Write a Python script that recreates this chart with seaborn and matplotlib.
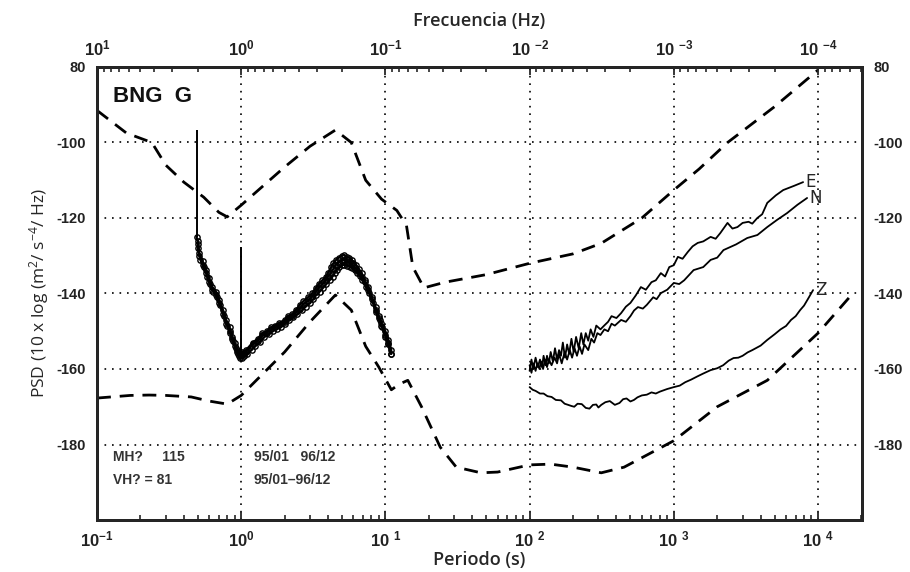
import matplotlib
matplotlib.use("Agg")
import matplotlib.pyplot as plt
import seaborn as sns
import pandas as pd
import numpy as np
from matplotlib.ticker import FixedLocator, NullFormatter, LogLocator

# ---------------- data ----------------
# Upper noise model (dashed)
nhnm_period = [0.1, 0.16, 0.24, 0.3, 0.4, 0.55, 0.7, 0.8, 1.0, 2.0, 3.0, 4.5, 5.8, 7.3, 9.4, 12, 14, 15.5, 18.5, 26, 50, 100, 200, 314, 600, 1000, 1500, 2360, 5000, 10000]
nhnm_psd = [-91.5, -97.5, -100, -106, -110.5, -114.5, -118.5, -119.7, -116.6, -106.5, -101, -96.7, -100, -110, -115, -118, -122, -133, -138.5, -137, -135, -132, -129.5, -126.7, -120, -112.6, -107, -100, -90.5, -80.8]

# Lower noise model (dashed)
nlnm_period = [0.1, 0.17, 0.23, 0.3, 0.45, 0.6, 0.8, 1.0, 2.0, 3.0, 4.5, 5.8, 7.3, 9.0, 11, 12.5, 14.3, 17.8, 24, 31, 46, 60, 100, 140, 200, 314, 452, 1000, 2000, 4450, 10000, 17400]
nlnm_psd = [-167.7, -167.0, -166.9, -167.0, -167.4, -168.5, -169.3, -167.0, -155.5, -147.5, -140.4, -144.4, -154.0, -159.5, -165.5, -164.0, -163.0, -170.0, -180.7, -186.0, -187.5, -187.3, -185.4, -185.2, -186.0, -187.5, -186.0, -179.0, -170.0, -163.0, -150.5, -140.0]

# Short-period band, station traces E, N, Z
E_sp_period = [0.49, 0.50, 0.513, 0.54, 0.574, 0.60, 0.631, 0.67, 0.705, 0.75, 0.788, 0.83, 0.867, 0.90, 0.939, 0.97, 0.995, 1.0, 1.02, 1.08, 1.2, 1.30, 1.40, 1.5, 1.6, 1.72, 1.83, 2.0, 2.1, 2.25, 2.39, 2.55, 2.7, 2.9, 3.09, 3.3, 3.45, 3.65, 3.85, 4.0, 4.2, 4.35, 4.52, 4.75, 4.97, 5.2, 5.4, 5.6, 5.83, 6.0, 6.3, 6.55, 6.83, 7.2, 7.62, 8.1, 8.54, 9.0, 9.38, 10.0, 10.5, 11.0]
E_sp_psd = [-125, -126, -129.3, -131.5, -133.8, -136, -138.3, -139.5, -141.7, -144.5, -147, -149, -151.5, -153, -155, -155.5, -156, -155.8, -155.5, -155, -153, -152, -150.5, -150, -149, -148.5, -147.8, -147, -146, -145.5, -144.4, -143, -142, -141, -140, -138.5, -137.5, -136.5, -135.6, -134.5, -133, -132, -131.2, -130.5, -130.0, -129.8, -130.3, -130.5, -131, -131.8, -132.5, -133.5, -134.6, -136.5, -138.3, -141, -143.6, -146, -147.8, -150, -152.3, -155]

N_sp_period = [0.50, 0.513, 0.54, 0.574, 0.60, 0.631, 0.67, 0.705, 0.75, 0.788, 0.83, 0.867, 0.90, 0.939, 0.97, 1.0, 1.04, 1.08, 1.2, 1.30, 1.40, 1.5, 1.6, 1.72, 1.83, 2.0, 2.1, 2.25, 2.39, 2.55, 2.7, 2.9, 3.09, 3.3, 3.45, 3.65, 3.85, 4.0, 4.2, 4.35, 4.52, 4.75, 4.97, 5.2, 5.4, 5.6, 5.83, 6.0, 6.3, 6.55, 6.83, 7.2, 7.62, 8.1, 8.54, 9.0, 9.38, 10.0, 10.5, 11.0]
N_sp_psd = [-127, -130, -132.5, -134.5, -137, -139, -140.5, -142.5, -145.5, -148, -150, -152, -154, -155.5, -156.5, -156.5, -156, -155.5, -153.5, -152.5, -151, -150.5, -149.5, -149, -148.3, -147.5, -146.5, -146, -145, -144, -142.8, -142, -140.8, -139.5, -138.5, -137.5, -136.5, -135.5, -134.5, -133.5, -132.5, -131.8, -131.3, -131.2, -131.5, -131.8, -132, -132.8, -133.5, -134.5, -135.5, -137, -139, -141.5, -144.5, -146.5, -148.5, -151, -153, -156]

Z_sp_period = [0.50, 0.52, 0.55, 0.58, 0.61, 0.64, 0.68, 0.71, 0.76, 0.80, 0.84, 0.88, 0.92, 0.95, 0.98, 1.01, 1.05, 1.1, 1.18, 1.25, 1.35, 1.45, 1.55, 1.65, 1.78, 1.9, 2.02, 2.15, 2.3, 2.45, 2.62, 2.8, 3.0, 3.15, 3.3, 3.5, 3.7, 3.9, 4.1, 4.3, 4.45, 4.6, 4.8, 5.0, 5.2, 5.45, 5.65, 5.9, 6.15, 6.4, 6.65, 6.9, 7.3, 7.7, 8.2, 8.6, 9.1, 9.5, 10.0, 10.4, 10.9]
Z_sp_psd = [-128, -131, -133, -135.5, -137.5, -139.5, -141, -143, -146, -148.5, -150.5, -152.5, -154.5, -156, -157, -157, -156.5, -156, -155, -154, -152.8, -151.5, -150.8, -150, -149.4, -148.8, -148, -147, -146.3, -145.5, -144.5, -143.5, -142.5, -141.5, -140.5, -139.5, -138.5, -137.5, -136.5, -135.5, -134.6, -133.8, -133.1, -132.5, -132.4, -132.7, -132.9, -133.2, -133.8, -134.5, -135.4, -136.5, -138.2, -140, -142.5, -145, -147, -149, -151.5, -153.5, -156]

# Narrow spikes in the short-period band (period, base, top)
spike_period = [0.49, 1.0]
spike_base = [-125.0, -155.8]
spike_top = [-96.7, -127.7]

# Long-period band
E_lp_period = [100, 103, 106, 110, 114, 118, 122, 125, 129, 132, 136, 140, 145, 150, 155, 160, 165, 170, 176, 182, 188, 195, 202, 210, 219, 228, 236, 245, 255, 265, 277, 290, 310, 329, 350, 370, 400, 431, 465, 500, 545, 591, 640, 700, 750, 813, 870, 930, 1000, 1067, 1150, 1250, 1350, 1465, 1600, 1800, 1950, 2100, 2357, 2550, 2762, 3000, 3300, 3500, 3794, 4100, 4446, 5100, 5736, 6800, 7880]
E_lp_psd = [-160.5, -157.5, -160, -157, -159.5, -157.5, -159.5, -156.5, -159, -156.5, -158.5, -155.5, -158, -154.5, -157.5, -155, -156.5, -153, -157, -153.5, -156, -152, -155.5, -151.5, -154.5, -150.5, -153.5, -150.5, -152.5, -149.5, -151.5, -148.5, -149.5, -148.5, -147.5, -146, -146.5, -145.2, -143.5, -142.5, -140.5, -138.3, -139, -137, -136.5, -134.6, -135.5, -133, -132.5, -130.3, -130.8, -129, -127.5, -126.6, -126.2, -125, -125.5, -124, -121.3, -122.8, -122.4, -121.3, -121, -121.5, -120, -119, -116, -114, -112.6, -111.5, -110.5]

N_lp_period = [100, 103, 106, 110, 113, 117, 120, 124, 128, 132, 136, 142, 149, 155, 160, 167, 175, 182, 190, 197, 205, 213, 222, 231, 240, 255, 268, 280, 295, 310, 330, 350, 370, 390, 431, 465, 500, 530, 564, 610, 650, 720, 760, 813, 900, 1000, 1090, 1180, 1372, 1600, 1800, 2000, 2210, 2700, 3230, 3800, 4446, 5200, 6100, 7200, 8400]
N_lp_psd = [-159, -161, -158.5, -160.5, -158.5, -160, -158, -160, -157.5, -159.5, -157.5, -159, -157, -158.5, -156, -158.5, -155.5, -157.5, -155, -157, -154.5, -156.5, -154, -156, -153.5, -155, -152, -153, -150.5, -151, -149.5, -150, -148, -148.5, -147, -147.5, -146, -144.5, -143.6, -144, -143, -141, -141.5, -139.9, -139, -137.2, -137.5, -136.5, -133.8, -133, -131.1, -130.5, -128.5, -127, -125.3, -124.5, -122.4, -120.5, -118.7, -116.5, -114.7]

Z_lp_period = [100, 105, 110, 118, 125, 133, 142, 152, 165, 175, 185, 195, 204, 215, 230, 245, 260, 275, 290, 300, 314, 335, 360, 390, 420, 445, 470, 500, 529, 560, 600, 650, 700, 750, 800, 900, 1000, 1100, 1200, 1320, 1450, 1600, 1800, 2000, 2200, 2400, 2595, 2800, 3000, 3250, 3500, 4000, 4446, 5000, 5500, 6000, 6500, 7000, 7515, 8000, 8500, 9240]
Z_lp_psd = [-164.8, -165.5, -165.8, -166.5, -166.5, -167.2, -167.4, -168.2, -168.3, -169.2, -169.5, -169.8, -170, -169.2, -169.3, -170.3, -170.5, -169.5, -169.4, -170.2, -169.5, -168.8, -168.5, -169.5, -169, -168, -167.8, -168.6, -168.2, -167.5, -167, -166.8, -166.2, -166.5, -166, -165.3, -164.8, -164.4, -163.5, -162.8, -162, -161.2, -160.3, -159.8, -159, -157.8, -157.1, -157, -156.5, -155.6, -155, -153.8, -152.3, -150.8, -149.5, -148.6, -147, -146, -144.4, -143.2, -141.5, -139.1]

period_ticks = [0.1, 1, 10, 100, 1000, 10000]
period_labels = ["10$^{-1}$", "10$^{0}$", "10 $^{1}$", "10 $^{2}$", "10 $^{3}$", "10 $^{4}$"]
freq_ticks = [10, 1, 0.1, 0.01, 0.001, 0.0001]
freq_labels = ["10$^{1}$", "10$^{0}$", "10$^{-1}$", "10 $^{-2}$", "10 $^{-3}$", "10 $^{-4}$"]
psd_ticks = [-80, -100, -120, -140, -160, -180]
psd_labels = ["80", "-100", "-120", "-140", "-160", "-180"]

# ---------------- figure ----------------
sns.set_style("white")
plt.rcParams["font.family"] = ["Liberation Sans", "DejaVu Sans"]
plt.rcParams["mathtext.default"] = "regular"

fig = plt.figure(figsize=(9.10, 5.72), dpi=100)
ax = fig.add_axes([97 / 910, 1 - 520 / 572, (862 - 97) / 910, (520 - 67) / 572])

def frame(p, v, name):
    return pd.DataFrame({"period": p, "psd": v, "trace": name})

dash_kw = dict(color="black", lw=2.0, dashes=(5, 3.2))
sns.lineplot(data=frame(nhnm_period, nhnm_psd, "NHNM"), x="period", y="psd",
             ax=ax, sort=False, estimator=None, **dash_kw)
sns.lineplot(data=frame(nlnm_period, nlnm_psd, "NLNM"), x="period", y="psd",
             ax=ax, sort=False, estimator=None, **dash_kw)

sp_kw = dict(color="black", lw=1.6, marker="o", markersize=3.8,
             markerfacecolor="none", markeredgecolor="black", markeredgewidth=1.0)
for p, v, n in [(E_sp_period, E_sp_psd, "E"), (N_sp_period, N_sp_psd, "N"),
                (Z_sp_period, Z_sp_psd, "Z")]:
    sns.lineplot(data=frame(p, v, n), x="period", y="psd", ax=ax, sort=False,
                 estimator=None, **sp_kw)
ax.vlines(spike_period, spike_base, spike_top, color="black", lw=1.4)

lp_kw = dict(color="black", lw=1.3)
for p, v, n in [(E_lp_period, E_lp_psd, "E"), (N_lp_period, N_lp_psd, "N"),
                (Z_lp_period, Z_lp_psd, "Z")]:
    sns.lineplot(data=frame(p, v, n), x="period", y="psd", ax=ax, sort=False,
                 estimator=None, **lp_kw)
    ax.text(p[-1] * 1.03, v[-1], n, fontsize=12, ha="left", va="center",
            family="DejaVu Sans")

xmin, xmax = 0.1, 10 ** 4.305
ax.set_xscale("log")
ax.set_xlim(xmin, xmax)
ax.set_ylim(-200, -80)

ax.xaxis.set_major_locator(FixedLocator(period_ticks))
ax.set_xticklabels(period_labels)
ax.xaxis.set_minor_locator(LogLocator(base=10, subs=np.arange(2, 10), numticks=20))
ax.xaxis.set_minor_formatter(NullFormatter())
ax.set_yticks(psd_ticks)
ax.set_yticklabels(psd_labels)

ax.grid(True, which="major", axis="both", color="black", linestyle=(0, (1, 3.5)), lw=1.2)
for sp in ax.spines.values():
    sp.set_linewidth(2.0)
    sp.set_color("black")

ax.tick_params(axis="x", which="major", direction="in", length=6, width=1.3,
               labelsize=12, pad=7, top=False)
ax.tick_params(axis="x", which="minor", direction="in", length=3.5, width=1.2, top=False)
ax.tick_params(axis="y", which="major", length=0, labelsize=10.5, pad=8,
               labelright=True, right=False)
for lab in ax.get_xticklabels() + ax.get_yticklabels():
    lab.set_fontweight("bold")
    lab.set_color("#222222")

ax2 = ax.twiny()
ax2.set_xscale("log")
ax2.set_xlim(1 / xmin, 1 / xmax)
ax2.xaxis.set_major_locator(FixedLocator(freq_ticks))
ax2.set_xticklabels(freq_labels)
ax2.xaxis.set_minor_locator(LogLocator(base=10, subs=np.arange(2, 10), numticks=20))
ax2.xaxis.set_minor_formatter(NullFormatter())
ax2.tick_params(axis="x", which="major", direction="in", length=6, width=1.3,
                labelsize=12, pad=6)
ax2.tick_params(axis="x", which="minor", direction="in", length=3.5, width=1.2)
for lab in ax2.get_xticklabels():
    lab.set_fontweight("bold")
    lab.set_color("#222222")
for sp in ax2.spines.values():
    sp.set_linewidth(2.0)

ax.set_xlabel("Periodo (s)", family="Open Sans", fontweight="semibold", fontsize=13, labelpad=1)
ax.set_ylabel("PSD (10 x log (m$^2$/ s$^{-4}$/ Hz)", family="Open Sans", fontsize=12.5, labelpad=4)
ax2.set_xlabel("Frecuencia (Hz)", family="Open Sans", fontweight="semibold", fontsize=13, labelpad=9)

ax.text(0.021, 0.935, "BNG  G", transform=ax.transAxes, fontsize=16, fontweight="bold",
        ha="left", va="center", color="#111111")
ax.text(0.021, 0.140, "MH?     115", transform=ax.transAxes, fontsize=10, fontweight="bold",
        ha="left", va="center", color="#333333")
ax.text(0.021, 0.088, "VH? = 81", transform=ax.transAxes, fontsize=10, fontweight="bold",
        ha="left", va="center", color="#333333")
ax.text(0.205, 0.140, "95/01   96/12", transform=ax.transAxes, fontsize=10, fontweight="bold",
        ha="left", va="center", color="#333333")
ax.text(0.205, 0.088, "95/01\u201396/12", transform=ax.transAxes, fontsize=10, fontweight="bold",
        ha="left", va="center", color="#333333")

fig.savefig("out.png", dpi=100)
